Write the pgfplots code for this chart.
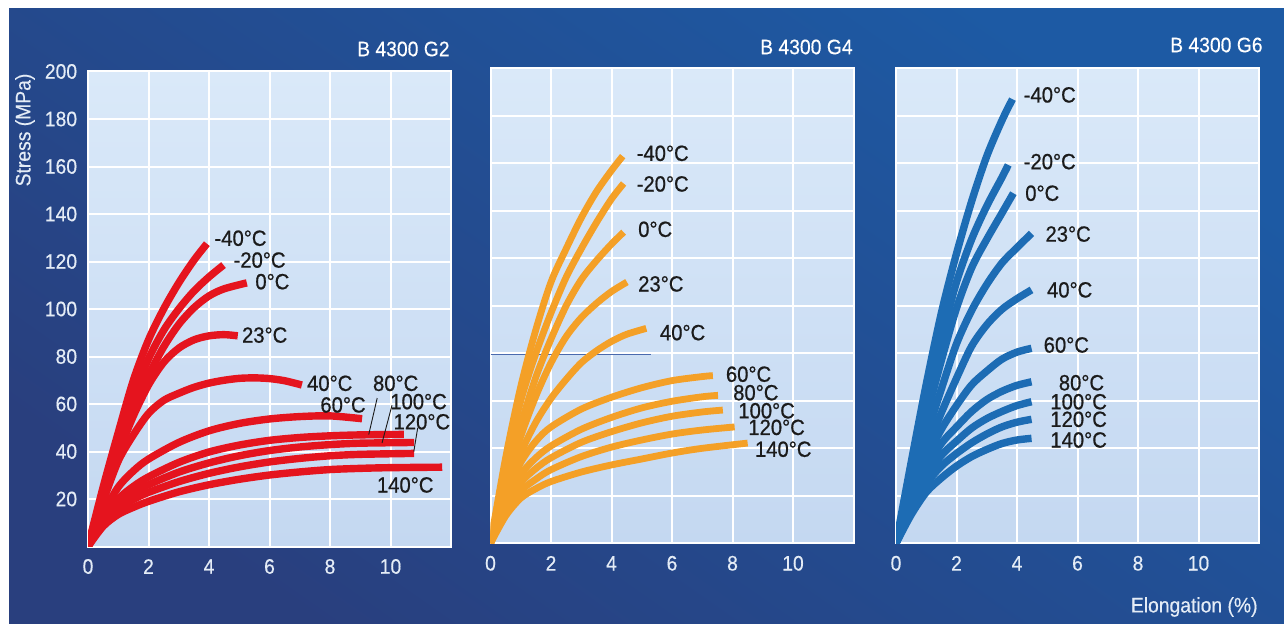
\documentclass[border=0pt]{standalone}
\usepackage{fontspec}
\setmainfont{Liberation Sans}[FakeStretch=0.92]
\newfontfamily\labfont{Liberation Sans}[FakeStretch=0.92, FakeBold=0.7]
\newfontfamily\tickfont{Liberation Sans}[FakeStretch=0.92, FakeBold=0.4]
\usepackage{pgfplots}
\pgfplotsset{compat=1.18}

\definecolor{bgdark}{HTML}{293F7E}
\definecolor{bglight}{HTML}{1D5AA4}
\definecolor{plottop}{HTML}{DAE9F9}
\definecolor{plotbot}{HTML}{C4D8F1}
\definecolor{ticktext}{HTML}{E4ECF6}
\definecolor{labtext}{HTML}{1B1B1B}
\definecolor{cG2}{HTML}{E5141E}
\definecolor{cG4}{HTML}{F4A027}
\definecolor{cG6}{HTML}{1D6CB4}
\definecolor{guide}{HTML}{4A6AAE}

\pgfplotsset{
  panel/.style={
    scale only axis, width=181.5pt, height=237.5pt,
    xmin=0, xmax=12, ymin=0, ymax=200,
    xtick={0,2,...,10}, ytick={20,40,...,200},
    grid=major, major grid style={white, line width=1pt},
    axis line style={white, line width=1pt},
    major tick length=0pt, tick style={draw=none},
    axis background/.style={shade, top color=plottop, bottom color=plotbot},
    /pgf/number format/assume math mode=true,
    ticklabel style={font=\tickfont\fontsize{10.5}{12}\selectfont, text=ticktext},
    xticklabel style={anchor=center, inner sep=0pt, yshift=-10pt},
    yticklabel style={anchor=east, inner sep=0pt, xshift=-5.25pt},
  },
  curve/.style={smooth, no markers, line cap=butt, line width=3.7pt, color=#1},
}
\tikzset{
  curvelab/.style={anchor=west, inner sep=0pt, text=labtext,
    font=\labfont\fontsize{11}{13}\selectfont},
}

\begin{document}
\begin{tikzpicture}
\useasboundingbox (0pt,0pt) rectangle (642pt,311.5pt);
\fill[white] (0pt,0pt) rectangle (642pt,311.5pt);
\shade[bottom color=bgdark, top color=bglight, shading angle=-35]
  (4.5pt,0pt) rectangle (642pt,307pt);

% ---------- B 4300 G2 ----------
\begin{axis}[panel, at={(44pt,38.25pt)}, anchor=south west]
\addplot[curve=cG2] coordinates {(0,0) (0.5,25) (1,48) (1.5,70) (2,87) (2.5,100) (3,111) (3.5,120.5) (3.93,127.5)};
\addplot[curve=cG2] coordinates {(0,0) (0.5,23) (1,44) (1.5,63) (2,79) (2.5,91) (3,100) (3.5,107.5) (4,113.5) (4.48,118.5)};
\addplot[curve=cG2] coordinates {(0,0) (0.5,21.5) (1,41) (1.5,58) (2,72) (2.5,84) (3,93.5) (3.5,100.5) (4,105.5) (4.5,108.5) (5.25,111)};
\addplot[curve=cG2] coordinates {(0,0) (0.5,20) (1,39) (1.5,55) (2,68) (2.5,77.5) (3,83.5) (3.5,87) (4,88.7) (4.5,89.2) (4.95,88.7)};
\addplot[curve=cG2] coordinates {(0,0) (0.5,19) (1,36) (1.5,47) (2,56) (2.5,61.5) (3,64.5) (3.5,67) (4,68.8) (4.5,70) (5,70.8) (5.5,71) (6,70.7) (6.5,69.8) (7.07,68)};
\addplot[curve=cG2] coordinates {(0,0) (0.5,14) (1,25) (1.5,31.8) (2,36.8) (3,43.8) (4,48.7) (5,51.8) (6,53.7) (7,54.7) (8,55) (9.06,53.8)};
\addplot[curve=cG2] coordinates {(0,0) (0.5,11.5) (1,20) (1.5,25.3) (2,29.3) (3,35.4) (4,39.8) (5,42.7) (6,44.7) (7,45.9) (8,46.6) (9,47) (10.44,47.2)};
\addplot[curve=cG2] coordinates {(0,0) (0.5,10.5) (1,18) (1.5,22.5) (2,26) (3,31.3) (4,35.2) (5,38.2) (6,40.4) (7,41.9) (8,42.9) (9,43.5) (10.78,43.8)};
\addplot[curve=cG2] coordinates {(0,0) (0.5,9.5) (1,16) (1.5,19.8) (2,22.8) (3,27.3) (4,30.8) (5,33.5) (6,35.6) (7,37.1) (8,38.2) (9,38.8) (10.78,39.2)};
\addplot[curve=cG2] coordinates {(0,0) (0.5,8.5) (1,13.5) (1.5,16.5) (2,19) (3,23) (4,26) (5,28.3) (6,30.1) (7,31.4) (8,32.4) (9,32.9) (10,33.2) (11.71,33.4)};
% leader lines to the tightly packed curves
\draw[labtext, line width=0.45pt] (axis cs:9.56,62.5) -- (axis cs:9.28,47.1);
\draw[labtext, line width=0.45pt] (axis cs:10.05,59.5) -- (axis cs:9.72,43.6);
\draw[labtext, line width=0.45pt] (axis cs:10.9,50) -- (axis cs:10.77,40);
\node[curvelab] at (axis cs:4.17,129.8) {-40°C};
\node[curvelab] at (axis cs:4.80,120.6) {-20°C};
\node[curvelab] at (axis cs:5.52,111.5) {0°C};
\node[curvelab] at (axis cs:5.08,89) {23°C};
\node[curvelab] at (axis cs:7.23,68.7) {40°C};
\node[curvelab] at (axis cs:7.67,59.6) {60°C};
\node[curvelab] at (axis cs:9.41,68.7) {80°C};
\node[curvelab] at (axis cs:9.98,61) {100°C};
\node[curvelab] at (axis cs:10.09,52.5) {120°C};
\node[curvelab] at (axis cs:9.54,25.9) {140°C};
\end{axis}

% ---------- B 4300 G4 ----------
\begin{axis}[panel, at={(245.25pt,39.85pt)}, anchor=south west, yticklabels={}]
\addplot[sharp plot, no markers, color=guide, line width=0.5pt] coordinates {(0,79.5) (5.3,79.5)};
\addplot[curve=cG4, line width=3.4pt] coordinates {(0,0) (0.5,36) (1,66) (1.5,90) (2,110) (2.5,124) (3,137) (3.5,148) (4,157) (4.37,163)};
\addplot[curve=cG4, line width=3.4pt] coordinates {(0,0) (0.5,33) (1,60) (1.5,80) (2,97) (2.5,112) (3,124) (3.5,135) (4,145) (4.4,151.5)};
\addplot[curve=cG4, line width=3.4pt] coordinates {(0,0) (0.5,28) (1,50) (1.5,70) (2,86) (2.5,100) (3,111) (3.5,119) (4,126) (4.4,131)};
\addplot[curve=cG4, line width=3.4pt] coordinates {(0,0) (0.5,24) (1,45) (1.5,62) (2,76) (2.5,87) (3,95) (3.5,101) (4,106) (4.51,110)};
\addplot[curve=cG4, line width=3.4pt] coordinates {(0,0) (0.5,21) (1,38) (1.5,51) (2,61) (2.5,69) (3,76) (3.5,81) (4,85) (4.5,88) (5.15,90.5)};
\addplot[curve=cG4, line width=3.4pt] coordinates {(0,0) (0.5,20) (1,34) (1.5,43) (2,49) (3,56.5) (4,61.5) (5,65.5) (6,68.5) (7,70.2) (7.35,70.6)};
\addplot[curve=cG4, line width=3.4pt] coordinates {(0,0) (0.5,17) (1,29) (1.5,36) (2,41) (3,48) (4,53) (5,57) (6,59.8) (7,61.7) (7.52,62.3)};
\addplot[curve=cG4, line width=3.4pt] coordinates {(0,0) (0.5,15) (1,25.5) (1.5,31.5) (2,36) (3,42.5) (4,47) (5,50.7) (6,53.5) (7,55.3) (7.68,56.1)};
\addplot[curve=cG4, line width=3.4pt] coordinates {(0,0) (0.5,13) (1,22) (1.5,27) (2,31) (3,36.5) (4,40.5) (5,43.5) (6,46) (7,47.7) (8.07,49)};
\addplot[curve=cG4, line width=3.4pt] coordinates {(0,0) (0.5,11.5) (1,19) (1.5,23) (2,26) (3,30) (4,33) (5,35.5) (6,38) (7,40) (8.5,42.2)};
\node[curvelab] at (axis cs:4.82,164.2) {-40°C};
\node[curvelab] at (axis cs:4.82,151.3) {-20°C};
\node[curvelab] at (axis cs:4.87,132.2) {0°C};
\node[curvelab] at (axis cs:4.87,109.2) {23°C};
\node[curvelab] at (axis cs:5.59,88.7) {40°C};
\node[curvelab] at (axis cs:7.77,71.2) {60°C};
\node[curvelab] at (axis cs:8.01,63.4) {80°C};
\node[curvelab] at (axis cs:8.18,55.8) {100°C};
\node[curvelab] at (axis cs:8.51,48.8) {120°C};
\node[curvelab] at (axis cs:8.73,39.6) {140°C};
\end{axis}

% ---------- B 4300 G6 ----------
\begin{axis}[panel, at={(448pt,39.85pt)}, anchor=south west, yticklabels={}]
\addplot[curve=cG6] coordinates {(0,0) (0.5,34) (1,67) (1.5,97) (2,122) (2.5,144) (3,163) (3.5,178) (3.85,187)};
\addplot[curve=cG6] coordinates {(0,0) (0.5,30) (1,59) (1.5,86) (2,110) (2.5,128) (3,142) (3.5,154) (3.71,159.3)};
\addplot[curve=cG6] coordinates {(0,0) (0.5,27) (1,53) (1.5,77) (2,99) (2.5,116) (3,128) (3.5,139) (3.88,147.4)};
\addplot[curve=cG6] coordinates {(0,0) (0.5,23) (1,45) (1.5,65) (2,84) (2.5,98) (3,109) (3.5,118) (4,124.5) (4.48,130.5)};
\addplot[curve=cG6] coordinates {(0,0) (0.5,21) (1,39) (1.5,55) (2,69.5) (2.5,83) (3,92) (3.5,98.5) (4,103) (4.48,106.7)};
\addplot[curve=cG6] coordinates {(0,0) (0.5,19) (1,35.5) (1.5,48) (2,58) (2.5,66.7) (3,72.5) (3.5,77.5) (4,80.5) (4.48,82.1)};
\addplot[curve=cG6] coordinates {(0,0) (0.5,17) (1,31) (1.5,42) (2,49) (2.5,55.5) (3,60.5) (3.5,64) (4,66.5) (4.48,68)};
\addplot[curve=cG6] coordinates {(0,0) (0.5,15) (1,27.5) (1.5,37) (2,43) (2.5,48.5) (3,52.5) (3.5,55.5) (4,58) (4.48,59.6)};
\addplot[curve=cG6] coordinates {(0,0) (0.5,13.5) (1,25) (1.5,32.5) (2,37.8) (2.5,42.3) (3,46) (3.5,49) (4,51) (4.48,52.2)};
\addplot[curve=cG6] coordinates {(0,0) (0.5,12) (1,21.5) (1.5,27.5) (2,32.5) (2.5,36.5) (3,39.5) (3.5,42) (4,43.5) (4.48,44.2)};
\node[curvelab] at (axis cs:4.21,188.8) {-40°C};
\node[curvelab] at (axis cs:4.21,160.7) {-20°C};
\node[curvelab] at (axis cs:4.26,147.4) {0°C};
\node[curvelab] at (axis cs:4.93,130.2) {23°C};
\node[curvelab] at (axis cs:4.98,106.7) {40°C};
\node[curvelab] at (axis cs:4.87,83.5) {60°C};
\node[curvelab] at (axis cs:5.37,67.6) {80°C};
\node[curvelab] at (axis cs:5.09,59.6) {100°C};
\node[curvelab] at (axis cs:5.09,52.2) {120°C};
\node[curvelab] at (axis cs:5.09,43.5) {140°C};
\end{axis}

% titles and axis labels
\begin{scope}[every node/.style={inner sep=0pt, font=\tickfont\fontsize{10.5}{12}\selectfont}]
\node[anchor=east, text=white] at (225pt,287pt) {B 4300 G2};
\node[anchor=east, text=white] at (426.5pt,288pt) {B 4300 G4};
\node[anchor=east, text=white] at (631.5pt,289pt) {B 4300 G6};
\node[rotate=90, text=ticktext] at (12.5pt,246.5pt) {Stress (MPa)};
\node[anchor=east, text=ticktext] at (629pt,8pt) {Elongation (\%)};
\end{scope}
\end{tikzpicture}
\end{document}
